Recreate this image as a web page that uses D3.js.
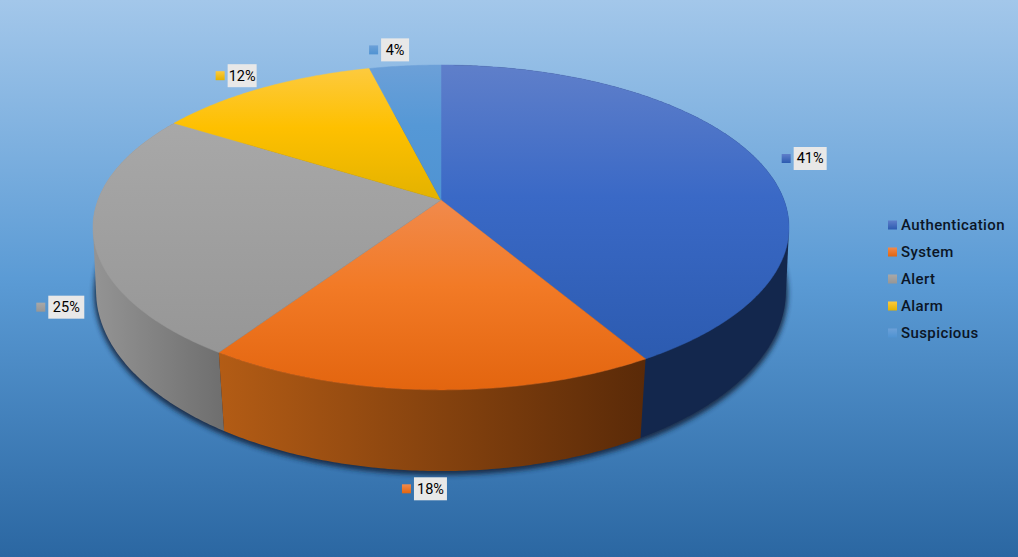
<!DOCTYPE html>
<html><head><meta charset="utf-8">
<script src="https://cdn.jsdelivr.net/npm/d3@7/dist/d3.min.js"></script>
<style>html,body{margin:0;padding:0;overflow:hidden}svg{display:block}text{font-family:Roboto,sans-serif}</style>
</head><body><svg id="c" width="1018" height="557"></svg>
<script>
const categories = ["Authentication","System","Alert","Alarm","Suspicious"];
const values = [41.49,17.91,24.5,12.2,3.9];
const labels = ["41%","18%","25%","12%","4%"];
const topLight = ["#5f7fca","#f18a4c","#a8a8a8","#fdca3e","#6ca0d8"];
const topMid = ["#3a69c6","#f27a26","#a0a0a0","#fec000","#5598d6"];
const topDark = ["#2c5bb0","#e3650f","#969696","#e3b200","#4f93d2"];
const sideLeft = ["#13274d","#b35c15","#949494"];
const sideRight = ["#13274d","#5a2a08","#6e6e6e"];
const labelW = [33,33,36,29,28];
const labelDx = [46.5,-5,-33,-27.5,-16];
const labelDy = [-1.6,99,73,-12,-16];

const W=1018,H=557,apexX=441,apexY=200,k=0.169,cx=343,cy=157.8;
const k2=0.15,c2=341,b2=176,apexY2=264;
const svg=d3.select("#c");
const defs=svg.append("defs");
const bg=defs.append("linearGradient").attr("id","bg").attr("x1",0).attr("y1",0).attr("x2",0).attr("y2",1);
[[0,"#a3c7ea"],[.5,"#5b9bd5"],[1,"#2b67a2"]].forEach(s=>bg.append("stop").attr("offset",s[0]).attr("stop-color",s[1]));
const blur=defs.append("filter").attr("id","blur").attr("x","-10%").attr("y","-10%").attr("width","120%").attr("height","120%");
blur.append("feGaussianBlur").attr("stdDeviation",2.8);
svg.append("rect").attr("width",W).attr("height",H).attr("fill","url(#bg)");

const xS=d3.scaleLinear().domain([0,1]).range([apexX,apexX+cx]);
const yS=d3.scaleLinear().domain([0,1]).range([apexY,apexY+cy]);
const xL=d3.scaleLinear().domain([0,1]).range([apexX,apexX+c2]);
const yL=d3.scaleLinear().domain([0,1]).range([apexY2,apexY2+b2]);
function proj(a){const u=Math.sin(a),v=-Math.cos(a),w=1-k*v;return [xS(u/w),yS(v/w)];}
function low(a){const u=Math.sin(a),v=-Math.cos(a),w=1-k2*v;return [xL(u/w),yL(v/w)];}
function angles(a0,a1){const n=Math.max(2,Math.ceil((a1-a0)/0.01));return d3.range(n+1).map(i=>a0+(a1-a0)*i/n);}
const line=d3.line();
const arcs=d3.pie().sort(null)(values);

categories.forEach((c,i)=>{
  const g=defs.append("linearGradient").attr("id","top"+i).attr("x1",0).attr("y1",0).attr("x2",0).attr("y2",1);
  g.append("stop").attr("offset",0).attr("stop-color",topLight[i]);
  g.append("stop").attr("offset",.45).attr("stop-color",topMid[i]);
  g.append("stop").attr("offset",1).attr("stop-color",topDark[i]);
  const m=defs.append("linearGradient").attr("id","mk"+i).attr("x1",0).attr("y1",0).attr("x2",0).attr("y2",1);
  m.append("stop").attr("offset",0).attr("stop-color",topLight[i]);
  m.append("stop").attr("offset",1).attr("stop-color",topDark[i]);
});
// shadow under the lower rim
svg.append("path").attr("d",line(angles(0,2*Math.PI).map(low))+"Z").attr("fill","#14283f")
  .attr("stroke","#14283f").attr("stroke-width",4).attr("opacity",.9)
  .attr("transform","translate(0,2)").attr("filter","url(#blur)");

// sides: back two as hulls, System on top of them
[0,2,1].forEach(i=>{
  const d=arcs[i];const as=angles(d.startAngle,d.endAngle);
  const up=as.map(proj),dn=as.map(low);
  const outline=i==1?up.concat(dn.slice().reverse()):d3.polygonHull(up.concat(dn));
  const [x0,x1]=d3.extent(outline,p=>p[0]);
  const g=defs.append("linearGradient").attr("id","side"+i).attr("gradientUnits","userSpaceOnUse")
    .attr("x1",x0).attr("x2",x1).attr("y1",0).attr("y2",0);
  g.append("stop").attr("offset",0).attr("stop-color",sideLeft[i]);
  g.append("stop").attr("offset",1).attr("stop-color",sideRight[i]);
  svg.append("path").attr("d",line(outline)+"Z").attr("fill",`url(#side${i})`);
});
// top faces
arcs.forEach((d,i)=>{
  const pts=[[apexX,apexY]].concat(angles(d.startAngle,d.endAngle).map(proj));
  svg.append("path").attr("d",line(pts)+"Z").attr("fill",`url(#top${i})`)
    .attr("stroke",`url(#top${i})`).attr("stroke-width",.5).attr("stroke-linejoin","round");
});
// data labels
arcs.forEach((d,i)=>{
  const p=proj((d.startAngle+d.endAngle)/2);
  const gx=p[0]+labelDx[i],gy=p[1]+labelDy[i];
  const g=svg.append("g").attr("transform",`translate(${gx},${gy})`);
  const bw=labelW[i], total=12+bw;
  g.append("rect").attr("x",-total/2).attr("y",-4.5).attr("width",9).attr("height",9).attr("fill",`url(#mk${i})`);
  g.append("rect").attr("x",-total/2+12).attr("y",-11.5).attr("width",bw).attr("height",23).attr("fill","#e8e8e8");
  g.append("text").attr("x",-total/2+12+bw/2).attr("y",5).attr("text-anchor","middle")
    .attr("font-size",14.5).attr("font-weight",400).attr("fill","#000").text(labels[i]);
});
// legend
const ly=d3.scalePoint().domain(categories).range([225,333]);
categories.forEach((c,i)=>{
  svg.append("rect").attr("x",888).attr("y",ly(c)-4.5).attr("width",9).attr("height",9).attr("fill",`url(#mk${i})`);
  svg.append("text").attr("x",901).attr("y",ly(c)+5).attr("font-size",15).attr("font-weight",500).attr("letter-spacing",0.4)
    .attr("fill","#0b1526").text(c);
});
</script></body></html>
